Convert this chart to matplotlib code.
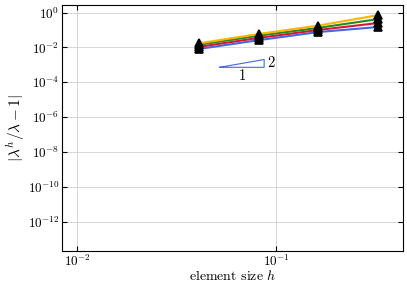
import numpy as np
import matplotlib
matplotlib.use('Agg')
import matplotlib.pyplot as plt

# 数据：单元尺寸与相对特征值误差
h = [0.0408, 0.0816, 0.163, 0.326]
err_orange = [0.017, 0.059, 0.178, 0.71]
err_green = [0.014, 0.047, 0.132, 0.42]
err_red = [0.0107, 0.035, 0.100, 0.25]
err_blue = [0.0081, 0.026, 0.076, 0.148]

series = [
    (err_blue, '#4169E1'),
    (err_red, '#DC143C'),
    (err_green, '#228B22'),
    (err_orange, '#FFB300'),
]

# 斜率三角形（阶数 2）
tri_x = [0.052, 0.087]
tri_y0 = 7.2e-4
slope = 2

plt.rcParams['font.family'] = 'serif'
plt.rcParams['font.serif'] = ['cmr10']
plt.rcParams['mathtext.fontset'] = 'cm'
plt.rcParams['axes.unicode_minus'] = False
plt.rcParams['axes.formatter.use_mathtext'] = True

fig, ax = plt.subplots(figsize=(4.07, 2.87), dpi=100)
fig.subplots_adjust(left=0.153, right=0.99, top=0.983, bottom=0.127)

for err, c in series:
    ax.loglog(h, err, color=c, linewidth=1.5, marker='^', markersize=5.5,
              markerfacecolor='k', markeredgecolor='k', markeredgewidth=1.2)

# 绘制斜率三角形
x0, x1 = tri_x
y1 = tri_y0 * (x1 / x0) ** slope
ax.plot([x0, x1, x1, x0], [tri_y0, tri_y0, y1, tri_y0], color='#4169E1', linewidth=0.8)
ax.text(np.sqrt(x0 * x1), tri_y0 * 0.8, '1', ha='center', va='top', fontsize=10.5)
ax.text(x1 * 1.04, np.sqrt(tri_y0 * y1), '2', ha='left', va='center', fontsize=10.5)

ax.set_xlim(0.0084, 0.434)
ax.set_ylim(2.2e-14, 2.75)
ax.set_yticks([10.0 ** k for k in range(-12, 1, 2)])
ax.minorticks_off()
ax.tick_params(which='both', direction='in', top=True, right=True, labelsize=9.5, pad=2)
ax.grid(True, color='#d0d0d0', linewidth=0.6)

ax.set_xlabel('element size $h$', fontsize=10, labelpad=0)
ax.set_ylabel(r'$|\lambda^h/\lambda - 1|$', fontsize=11)
ax.yaxis.set_label_coords(-0.105, 0.5)

fig.savefig('out.png', dpi=100)
